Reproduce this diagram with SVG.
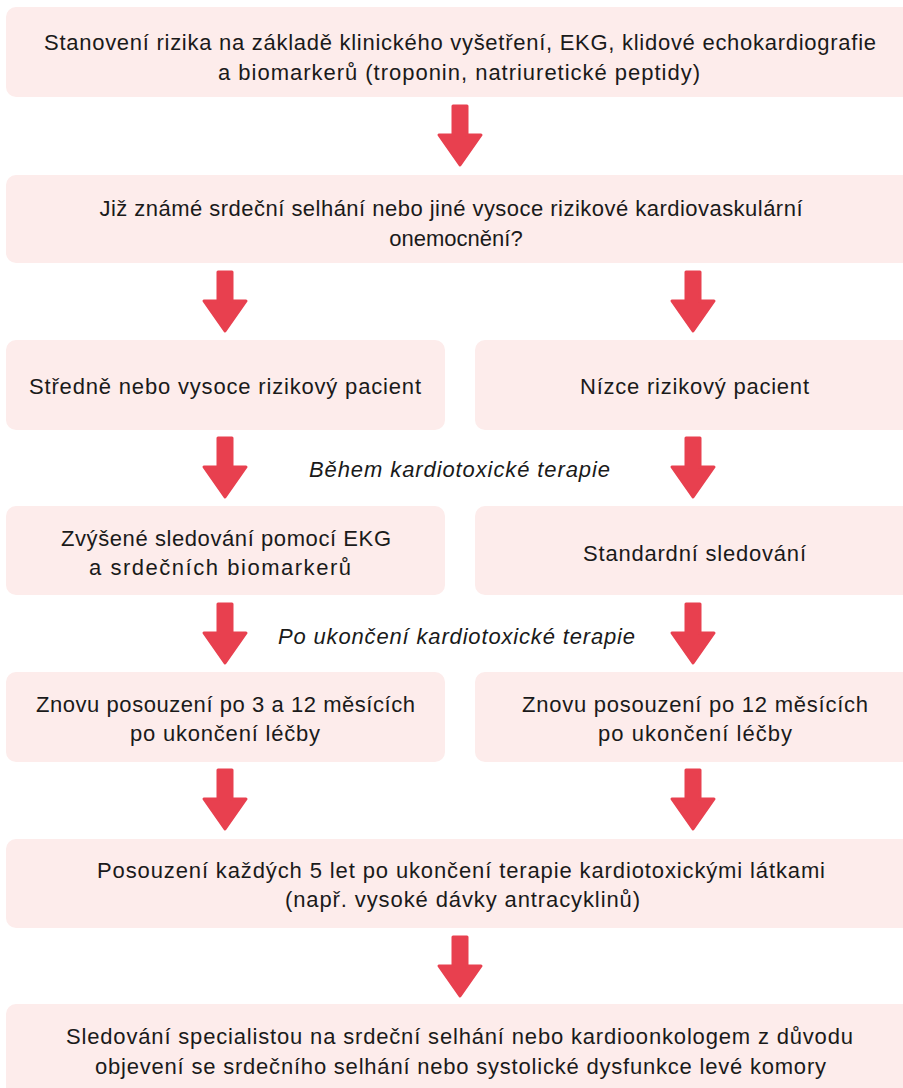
<svg xmlns="http://www.w3.org/2000/svg" width="903" height="1088" viewBox="0 0 903 1088">
<style>
.box{fill:#fdeceb;}
.t{font-family:"Liberation Sans",Arial,sans-serif;font-size:22px;fill:#1a1a1a;}
.i{font-family:"Liberation Sans",Arial,sans-serif;font-size:22px;font-style:italic;fill:#1a1a1a;}
.arr{fill:#e8404f;stroke:#e8404f;stroke-width:3;stroke-linejoin:round;}
</style>
<defs>
<path id="arrow" class="arr" d="M-7,-60 L7,-60 L7,-31 L21,-31 L0,-1 L-21,-31 L-7,-31 Z"/>
</defs>
<rect width="903" height="1088" fill="#ffffff"/>
<g id="connectors">
<use href="#arrow" x="460" y="166"/>
<use href="#arrow" x="225" y="332"/>
<use href="#arrow" x="693" y="332"/>
<use href="#arrow" x="225" y="498"/>
<use href="#arrow" x="693" y="498"/>
<use href="#arrow" x="225" y="664"/>
<use href="#arrow" x="693" y="664"/>
<use href="#arrow" x="225" y="830"/>
<use href="#arrow" x="693" y="830"/>
<use href="#arrow" x="460" y="997"/>
</g>
<g id="n1">
<rect class="box" x="6" y="7" width="910" height="90" rx="10"/>
<text class="t" x="460" y="50" text-anchor="middle" textLength="832" lengthAdjust="spacing">Stanovení rizika na základě klinického vyšetření, EKG, klidové echokardiografie</text>
<text class="t" x="459" y="80" text-anchor="middle" textLength="482" lengthAdjust="spacing">a biomarkerů (troponin, natriuretické peptidy)</text>
</g>
<g id="n2">
<rect class="box" x="6" y="175" width="910" height="88" rx="10"/>
<text class="t" x="451" y="216" text-anchor="middle" textLength="703" lengthAdjust="spacing">Již známé srdeční selhání nebo jiné vysoce rizikové kardiovaskulární</text>
<text class="t" x="456" y="246" text-anchor="middle">onemocnění?</text>
</g>
<g id="n3">
<rect class="box" x="6" y="340" width="439" height="90" rx="10"/>
<text class="t" x="225" y="394" text-anchor="middle" textLength="392" lengthAdjust="spacing">Středně nebo vysoce rizikový pacient</text>
</g>
<g id="n4">
<rect class="box" x="475" y="340" width="440" height="90" rx="10"/>
<text class="t" x="694.500" y="394" text-anchor="middle" textLength="229" lengthAdjust="spacing">Nízce rizikový pacient</text>
</g>
<g id="l1">
<text class="i" x="459.500" y="477" text-anchor="middle" textLength="301" lengthAdjust="spacing">Během kardiotoxické terapie</text>
</g>
<g id="n5">
<rect class="box" x="6" y="506" width="439" height="89" rx="10"/>
<text class="t" x="226" y="546" text-anchor="middle" textLength="330" lengthAdjust="spacing">Zvýšené sledování pomocí EKG</text>
<text class="t" x="220" y="575" text-anchor="middle" textLength="262" lengthAdjust="spacing">a srdečních biomarkerů</text>
</g>
<g id="n6">
<rect class="box" x="475" y="506" width="440" height="89" rx="10"/>
<text class="t" x="694.500" y="561" text-anchor="middle" textLength="223" lengthAdjust="spacing">Standardní sledování</text>
</g>
<g id="l2">
<text class="i" x="456.500" y="644" text-anchor="middle" textLength="357" lengthAdjust="spacing">Po ukončení kardiotoxické terapie</text>
</g>
<g id="n7">
<rect class="box" x="6" y="672" width="439" height="90" rx="10"/>
<text class="t" x="225.500" y="712" text-anchor="middle" textLength="379" lengthAdjust="spacing">Znovu posouzení po 3 a 12 měsících</text>
<text class="t" x="225" y="741" text-anchor="middle" textLength="190" lengthAdjust="spacing">po ukončení léčby</text>
</g>
<g id="n8">
<rect class="box" x="475" y="672" width="440" height="90" rx="10"/>
<text class="t" x="695" y="712" text-anchor="middle" textLength="346" lengthAdjust="spacing">Znovu posouzení po 12 měsících</text>
<text class="t" x="695" y="741" text-anchor="middle" textLength="194" lengthAdjust="spacing">po ukončení léčby</text>
</g>
<g id="n9">
<rect class="box" x="6" y="839" width="910" height="89" rx="10"/>
<text class="t" x="461" y="878" text-anchor="middle" textLength="728" lengthAdjust="spacing">Posouzení každých 5 let po ukončení terapie kardiotoxickými látkami</text>
<text class="t" x="462.500" y="907" text-anchor="middle" textLength="355" lengthAdjust="spacing">(např. vysoké dávky antracyklinů)</text>
</g>
<g id="n10">
<rect class="box" x="6" y="1004" width="910" height="100" rx="10"/>
<text class="t" x="459.500" y="1044" text-anchor="middle" textLength="787" lengthAdjust="spacing">Sledování specialistou na srdeční selhání nebo kardioonkologem z důvodu</text>
<text class="t" x="460.500" y="1074" text-anchor="middle" textLength="731" lengthAdjust="spacing">objevení se srdečního selhání nebo systolické dysfunkce levé komory</text>
</g>
</svg>
